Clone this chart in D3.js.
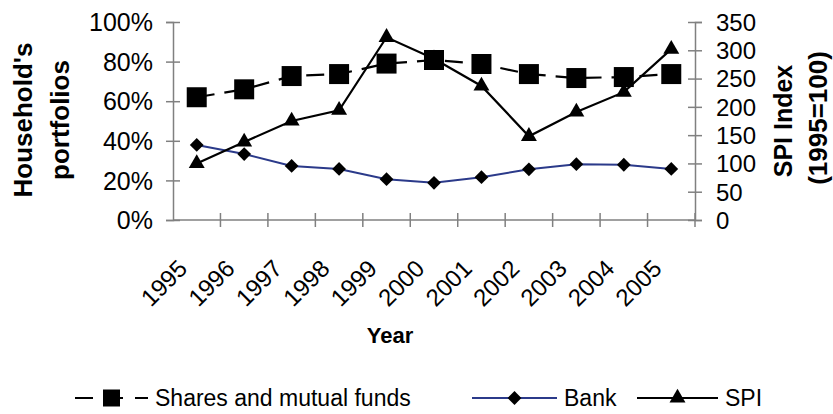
<!DOCTYPE html>
<html>
<head>
<meta charset="utf-8">
<script src="https://cdn.jsdelivr.net/npm/d3@7"></script>
<style>
  body { margin: 0; background: #fff; }
  text { font-family: Arial, "Liberation Sans", sans-serif; fill: #000; }
</style>
</head>
<body>
<div id="chart"></div>
<script>
// Data
const years = ["1995", "1996", "1997", "1998", "1999", "2000", "2001", "2002", "2003", "2004", "2005"];
const shares = [0.62, 0.66, 0.727, 0.737, 0.79, 0.808, 0.788, 0.737, 0.717, 0.722, 0.737];
const bank = [0.379, 0.333, 0.273, 0.258, 0.206, 0.188, 0.216, 0.256, 0.282, 0.279, 0.258];
const spi = [100, 138, 175, 194, 323, 285, 237, 148, 191, 226, 302];
const leftTicks = [0, 0.2, 0.4, 0.6, 0.8, 1.0];
const rightTicks = [0, 50, 100, 150, 200, 250, 300, 350];

const width = 833, height = 414;
const margin = { top: 22, right: 138, bottom: 194, left: 173 };
const plotW = width - margin.left - margin.right;
const plotH = height - margin.top - margin.bottom;

const svg = d3.select("#chart")
  .append("svg")
  .attr("width", width)
  .attr("height", height);

const g = svg.append("g")
  .attr("transform", `translate(${margin.left},${margin.top})`);

// Scales
const x = d3.scaleBand().domain(years).range([0, plotW]);
const yLeft = d3.scaleLinear().domain([0, 1]).range([plotH, 0]);
const yRight = d3.scaleLinear().domain([0, 350]).range([plotH, 0]);
const cx = d => x(d) + x.bandwidth() / 2;

const axisColor = "#808080";

// Left axis
const leftAxis = g.append("g")
  .call(d3.axisLeft(yLeft).tickValues(leftTicks).tickFormat(d3.format(".0%")).tickSize(7).tickPadding(13));
leftAxis.select(".domain").attr("stroke", axisColor).attr("stroke-width", 1.5);
leftAxis.selectAll(".tick line").attr("stroke", axisColor).attr("stroke-width", 1.5).attr("x2", -7).attr("x1", 7);
leftAxis.selectAll(".tick text").style("font-size", "25px").attr("dy", "0.35em");

// Right axis
const rightAxis = g.append("g")
  .attr("transform", `translate(${plotW},0)`)
  .call(d3.axisRight(yRight).tickValues(rightTicks).tickSize(7).tickPadding(14));
rightAxis.select(".domain").attr("stroke", axisColor).attr("stroke-width", 1.5);
rightAxis.selectAll(".tick line").attr("stroke", axisColor).attr("stroke-width", 1.5).attr("x1", -7);
rightAxis.selectAll(".tick text").style("font-size", "24px").attr("dy", "0.35em");

// Bottom axis: ticks at band edges
const bottom = g.append("g").attr("transform", `translate(0,${plotH})`);
bottom.append("line")
  .attr("x1", 0).attr("x2", plotW)
  .attr("stroke", axisColor).attr("stroke-width", 1.5);
bottom.selectAll(".xt")
  .data(years.slice(1).concat(["end"]))
  .join("line")
  .attr("class", "xt")
  .attr("x1", (d, i) => x.step() * (i + 1))
  .attr("x2", (d, i) => x.step() * (i + 1))
  .attr("y1", -7).attr("y2", 7)
  .attr("stroke", axisColor).attr("stroke-width", 1.5);
bottom.selectAll(".xl")
  .data(years)
  .join("text")
  .attr("class", "xl")
  .attr("text-anchor", "end")
  .attr("transform", d => `translate(${cx(d) - 8},${50}) rotate(-45)`)
  .style("font-size", "24px")
  .text(d => d);

// Series
const shareLine = d3.line().x((d, i) => cx(years[i])).y(d => yLeft(d));
const spiLine = d3.line().x((d, i) => cx(years[i])).y(d => yRight(d));

g.append("path")
  .datum(bank)
  .attr("d", shareLine)
  .attr("fill", "none")
  .attr("stroke", "#2b3a8a")
  .attr("stroke-width", 2);

g.append("path")
  .datum(spi)
  .attr("d", spiLine)
  .attr("fill", "none")
  .attr("stroke", "#000")
  .attr("stroke-width", 2.2);

g.append("path")
  .datum(shares)
  .attr("d", shareLine)
  .attr("fill", "none")
  .attr("stroke", "#000")
  .attr("stroke-width", 2.2)
  .attr("stroke-dasharray", "18,10");

const square = d3.symbol().type(d3.symbolSquare).size(400);
const diamond = d3.symbol().type(d3.symbolSquare).size(95);
const triangle = d3.symbol().type(d3.symbolTriangle).size(110);

g.selectAll(".bank-pt")
  .data(bank)
  .join("path")
  .attr("class", "bank-pt")
  .attr("d", diamond)
  .attr("transform", (d, i) => `translate(${cx(years[i])},${yLeft(d)}) rotate(45)`)
  .attr("fill", "#000");

g.selectAll(".spi-pt")
  .data(spi)
  .join("path")
  .attr("class", "spi-pt")
  .attr("d", triangle)
  .attr("transform", (d, i) => `translate(${cx(years[i])},${yRight(d)})`)
  .attr("fill", "#000");

g.selectAll(".share-pt")
  .data(shares)
  .join("path")
  .attr("class", "share-pt")
  .attr("d", square)
  .attr("transform", (d, i) => `translate(${cx(years[i])},${yLeft(d)})`)
  .attr("fill", "#000");

// Axis titles
const titles = [
  { text: "Household's", x: 23, y: 120, size: 26 },
  { text: "portfolios", x: 60, y: 120, size: 26 },
  { text: "SPI Index", x: 783, y: 121, size: 25 },
  { text: "(1995=100)", x: 818, y: 118, size: 26 }
];
titles.forEach(t => {
  svg.append("text")
    .attr("transform", `translate(${t.x},${t.y}) rotate(-90)`)
    .attr("text-anchor", "middle")
    .attr("dy", "0.35em")
    .style("font-size", t.size + "px")
    .style("font-weight", "bold")
    .text(t.text);
});

svg.append("text")
  .attr("x", 390).attr("y", 343)
  .attr("text-anchor", "middle")
  .style("font-size", "22px")
  .style("font-weight", "bold")
  .text("Year");

// Legend
const legendItems = [
  { name: "Shares and mutual funds", x1: 75, x2: 148, color: "#000", dash: "18,12", marker: d3.symbol().type(d3.symbolSquare).size(289), rot: 0 },
  { name: "Bank", x1: 472, x2: 557, color: "#2b3a8a", dash: null, marker: diamond, rot: 45 },
  { name: "SPI", x1: 637, x2: 718, color: "#000", dash: null, marker: triangle, rot: 0 }
];
const ly = 398;
const legend = svg.append("g").attr("class", "legend");
legendItems.forEach(item => {
  legend.append("line")
    .attr("x1", item.x1).attr("x2", item.x2)
    .attr("y1", ly).attr("y2", ly)
    .attr("stroke", item.color)
    .attr("stroke-width", 2.2)
    .attr("stroke-dasharray", item.dash);
  legend.append("path")
    .attr("d", item.marker)
    .attr("transform", `translate(${(item.x1 + item.x2) / 2},${ly}) rotate(${item.rot})`)
    .attr("fill", "#000");
  legend.append("text")
    .attr("x", item.x2 + 7).attr("y", ly)
    .attr("dy", "0.35em")
    .style("font-size", "23px")
    .text(item.name);
});
</script>
</body>
</html>
